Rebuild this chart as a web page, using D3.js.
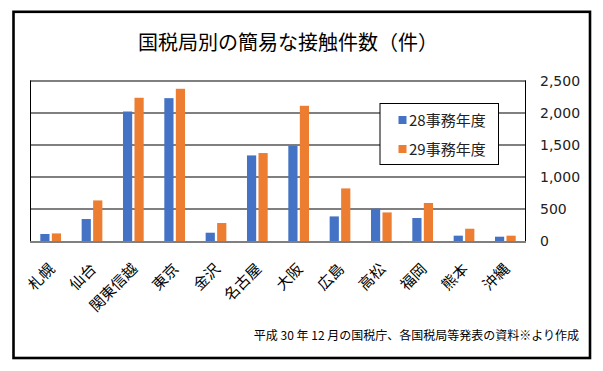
<!DOCTYPE html>
<html>
<head>
<meta charset="utf-8">
<script src="https://cdn.jsdelivr.net/npm/d3@7"></script>
<style>
  body { margin: 0; background: #fff; }
  text { font-family: "Noto Sans CJK JP", sans-serif; fill: #000; }
</style>
</head>
<body>
<div class="chart"></div>
<script>
// data
const offices = ['札幌', '仙台', '関東信越', '東京', '金沢', '名古屋', '大阪', '広島', '高松', '福岡', '熊本', '沖縄'];
const seriesNames = ['28事務年度', '29事務年度'];
const fy28 = [109, 342, 2017, 2225, 129, 1333, 1484, 383, 503, 358, 83, 67];
const fy29 = [118, 632, 2231, 2371, 280, 1370, 2106, 819, 445, 592, 191, 83];
const yTicks = [0, 500, 1000, 1500, 2000, 2500];
const colors = ['#4472C4', '#ED7D31'];

const W = 603, H = 371;
const margin = { top: 80.5, right: 77, bottom: 130, left: 30 };
const width = W - margin.left - margin.right;
const height = H - margin.top - margin.bottom;

const svg = d3.select('.chart').append('svg')
    .attr('width', W)
    .attr('height', H);

// outer frame
svg.append('rect')
    .attr('x', 13.5).attr('y', 11.8)
    .attr('width', 576.5).attr('height', 346.2)
    .attr('fill', 'none')
    .attr('stroke', '#000')
    .attr('stroke-width', 2.6);

svg.append('text')
    .text('国税局別の簡易な接触件数（件）')
    .attr('x', 288)
    .attr('y', 50)
    .attr('text-anchor', 'middle')
    .attr('font-size', '20px');

const g = svg.append('g')
    .attr('transform', `translate(${margin.left},${margin.top})`);

const x0 = d3.scaleBand().domain(offices).range([0, width]).padding(0);
const x1 = d3.scaleBand().domain(seriesNames).range([0, 20.7]).paddingInner(0.2);
const y = d3.scaleLinear().domain([0, 2500]).range([height, 0]);

// grid
g.selectAll('.grid')
    .data(yTicks)
    .enter()
    .append('line')
    .attr('x1', 0).attr('x2', width)
    .attr('y1', d => Math.round(y(d)) + 0.5)
    .attr('y2', d => Math.round(y(d)) + 0.5)
    .attr('stroke', '#000')
    .attr('stroke-width', 1);

g.append('line').attr('x1', 0.5).attr('x2', 0.5).attr('y1', y(2500)).attr('y2', y(0)).attr('stroke', '#000');
g.append('line').attr('x1', width - 0.5).attr('x2', width - 0.5).attr('y1', y(2500)).attr('y2', y(0)).attr('stroke', '#000');

// right axis labels
g.selectAll('.ylab')
    .data(yTicks)
    .enter()
    .append('text')
    .text(d => d3.format(',')(d))
    .attr('x', width + 14)
    .attr('y', d => y(d))
    .attr('dy', '0.36em')
    .style('font-family', '"DejaVu Sans", sans-serif')
    .attr('font-size', '14px')
    .style('fill', '#222');

// bars
const rows = offices.map((o, i) => ({ office: o, values: [fy28[i], fy29[i]] }));
const grp = g.selectAll('.office')
    .data(rows)
    .enter()
    .append('g')
    .attr('transform', d => `translate(${x0(d.office) + (x0.bandwidth() - 20.7) / 2},0)`);

grp.selectAll('rect')
    .data(d => d.values.map((v, k) => ({ key: seriesNames[k], value: v, k: k })))
    .enter()
    .append('rect')
    .attr('x', d => x1(d.key))
    .attr('width', x1.bandwidth())
    .attr('y', d => y(d.value))
    .attr('height', d => y(0) - y(d.value))
    .attr('fill', d => colors[d.k]);

// category labels
g.selectAll('.xlab')
    .data(offices)
    .enter()
    .append('text')
    .text(d => d)
    .attr('text-anchor', 'end')
    .attr('font-size', '15px')
    .attr('transform', d => `translate(${x0(d) + x0.bandwidth() / 2 + 5},${height + 29}) rotate(-45)`);

// legend
const legend = svg.append('g').attr('transform', 'translate(380,103.5)');
legend.append('rect')
    .attr('width', 118.5).attr('height', 61)
    .attr('fill', '#fff')
    .attr('stroke', '#000');
seriesNames.forEach((s, k) => {
    legend.append('rect')
        .attr('x', 18.5).attr('y', 12.5 + k * 29)
        .attr('width', 8).attr('height', 8)
        .attr('fill', colors[k]);
    legend.append('text')
        .text(s)
        .attr('x', 29)
        .attr('y', 22 + k * 29)
        .attr('font-size', '15px')
        .style('fill', '#222');
});

svg.append('text')
    .text('平成 30 年 12 月の国税庁、各国税局等発表の資料※より作成')
    .attr('x', 579)
    .attr('y', 340)
    .attr('text-anchor', 'end')
    .attr('font-size', '12px');
</script>
</body>
</html>
